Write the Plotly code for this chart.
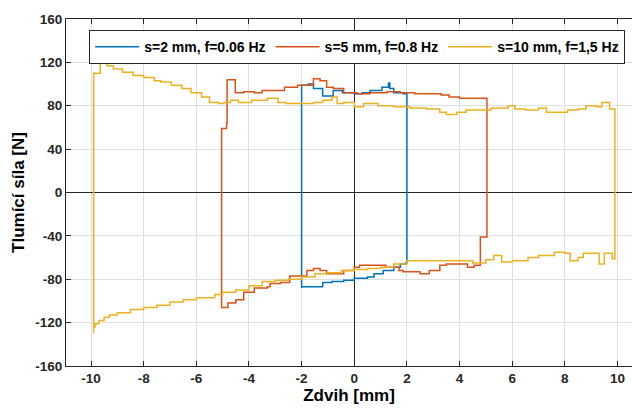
import plotly.graph_objects as go

# s=2 mm, f=0.06 Hz
blue_x = [-2.0, -2.0, -1.75, -1.55, -1.2, -0.8, -0.45, 0.0, 0.3, 0.6, 1.05, 1.3, 1.35, 1.5, 1.85, 2.0,
          2.0, 1.95, 1.75, 1.5, 1.1, 0.75, 0.5, 0.0, -0.4, -0.85, -1.2, -1.5, -1.8, -2.0, -2.0]
blue_y = [-87, 99, 100, 96, 89, 94, 92, 91, 92, 94, 97, 101, 96, 92, 91, 88,
          -65, -66, -69, -72, -75, -78, -79, -81, -82, -83, -87, -87, -87, -88, -87]

# s=5 mm, f=0.8 Hz
orange_x = [-5.04, -5.04, -4.85, -4.83, -4.52, -4.2, -3.8, -3.5, -3.2, -2.65, -2.15, -1.8, -1.55, -1.3, -1.05, -0.8,
            -0.4, 0.1, 0.6, 1.25, 1.75, 2.3, 2.8, 3.3, 3.6, 4.0, 4.5, 5.04,
            5.04, 4.79, 4.79, 4.55, 4.3, 3.9, 3.5, 3.25, 2.85, 2.5, 2.1, 1.85, 1.7, 1.2, 0.8, 0.45, 0.2, 0.0,
            -0.4, -0.8, -1.05, -1.3, -1.55, -1.8, -2.0, -2.45, -2.8, -3.2, -3.3, -3.8, -4.2, -4.5, -4.8, -5.04]
orange_y = [-102, 59, 64, 104, 92, 93, 92, 94, 94, 97, 99, 99, 105, 103, 97, 96,
            92, 91, 92, 93, 92, 91, 91, 90, 88, 87, 87, 86,
            -41, -46, -67, -69, -66, -66, -67, -72, -75, -73, -73, -72, -69, -67, -67, -67, -69, -72,
            -75, -75, -72, -70, -72, -77, -77, -83, -84, -87, -88, -92, -99, -102, -106, -102]

# s=10 mm, f=1,5 Hz
yellow_x = [-9.9, -9.9, -9.65, -9.4, -9.15, -8.8, -8.4, -8.0, -7.6, -7.35, -6.95, -6.55, -6.2, -5.8, -5.5, -5.15,
            -4.95, -4.7, -4.4, -3.9, -3.5, -3.3, -2.9, -2.6, -2.1, -1.55, -1.2, -0.85, -0.65, -0.4, 0.0, 0.35,
            0.9, 1.5, 2.1, 2.75, 3.25, 3.5, 3.9, 4.25, 4.8, 5.2, 5.85, 6.1, 6.5, 7.0, 7.3, 7.7, 8.1, 8.5,
            8.8, 9.2, 9.4, 9.7, 9.9,
            9.9, 9.8, 9.5, 9.3, 9.0, 8.7, 8.5, 8.2, 8.0, 7.6, 7.0, 6.6, 6.0, 5.6, 5.3, 5.0, 4.5, 4.0, 3.3,
            2.5, 2.0, 1.5, 1.0, 0.5, 0.0, -0.5, -1.0, -1.5, -2.0, -2.5, -3.0, -3.5, -4.0, -4.5, -5.0, -5.3,
            -6.0, -6.5, -7.0, -7.5, -8.0, -8.5, -9.0, -9.3, -9.5, -9.7, -9.85, -9.9]
yellow_y = [-130, 110, 128, 117, 114, 111, 108, 106, 103, 102, 99, 96, 92, 88, 83, 82,
            83, 85, 83, 85, 85, 87, 83, 82, 82, 83, 85, 88, 82, 83, 79, 82,
            80, 79, 78, 77, 74, 72, 74, 76, 76, 78, 80, 77, 76, 78, 74, 74, 76, 77,
            80, 79, 83, 77, 76,
            -61, -56, -66, -56, -56, -60, -63, -56, -55, -58, -60, -63, -64, -58, -62, -65, -63, -63, -63,
            -63, -66, -69, -70, -71, -72, -74, -75, -78, -80, -81, -82, -86, -90, -92, -94, -97,
            -99, -101, -104, -106, -108, -111, -113, -115, -118, -121, -124, -130]

names = ["s=2 mm, f=0.06 Hz", "s=5 mm, f=0.8 Hz", "s=10 mm, f=1,5 Hz"]
colors = ["#0072BD", "#D95319", "#EDB120"]

x_ticks = list(range(-10, 11, 2))
y_ticks = list(range(-160, 161, 40))

fig = go.Figure()
for xs, ys, nm, c in zip([blue_x, orange_x, yellow_x], [blue_y, orange_y, yellow_y], names, colors):
    fig.add_trace(go.Scatter(x=xs, y=ys, mode="lines", name=nm,
                             line=dict(color=c, width=1.5, shape="hv")))

FONT = "Arial, Liberation Sans, sans-serif"
fig.update_layout(
    width=632, height=410,
    margin=dict(l=66, r=0, t=19, b=44),
    paper_bgcolor="white", plot_bgcolor="white",
    font=dict(family=FONT, color="#262626"),
    legend=dict(orientation="h", x=0.041, y=0.968, xanchor="left", yanchor="top",
                bgcolor="white", bordercolor="#262626", borderwidth=1,
                font=dict(size=14, weight="bold", color="#000000"),
                itemwidth=44, tracegroupgap=0),
    showlegend=True,
)
fig.update_xaxes(range=[-10.95, 10.55], tickvals=x_ticks, ticktext=[str(v) for v in x_ticks],
                 showgrid=True, gridcolor="#dfdfdf", gridwidth=1,
                 zeroline=True, zerolinecolor="#262626", zerolinewidth=1,
                 showline=True, linecolor="#262626", linewidth=1, mirror="ticks",
                 ticks="inside", ticklen=5, tickcolor="#262626",
                 tickfont=dict(size=13.5, weight="bold", color="#262626"),
                 title=dict(text="Zdvih [mm]", font=dict(size=17, weight="bold", color="#000000"), standoff=2))
fig.update_yaxes(range=[-160, 160], tickvals=y_ticks, ticktext=[str(v) for v in y_ticks],
                 showgrid=True, gridcolor="#dfdfdf", gridwidth=1,
                 zeroline=True, zerolinecolor="#262626", zerolinewidth=1,
                 showline=True, linecolor="#262626", linewidth=1, mirror=False,
                 ticks="inside", ticklen=5, tickcolor="#262626",
                 tickfont=dict(size=13.5, weight="bold", color="#262626"),
                 title=dict(text="Tlumící síla [N]", font=dict(size=17, weight="bold", color="#000000"), standoff=6))

fig.write_html("out.html")
